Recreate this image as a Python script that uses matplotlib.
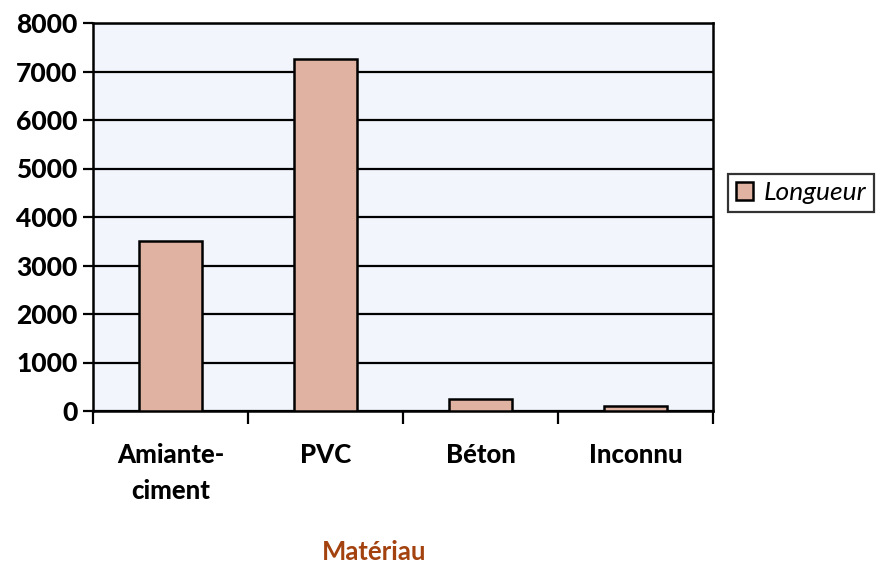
import matplotlib
matplotlib.use("Agg")
import matplotlib.pyplot as plt
import numpy as np

categories = ["Amiante-\nciment", "PVC", "Béton", "Inconnu"]
longueur = [3500, 7250, 240, 110]
series_name = "Longueur"
yticks = [0, 1000, 2000, 3000, 4000, 5000, 6000, 7000, 8000]
xlabel = "Matériau"

plt.rcParams['font.family'] = ['Lato', 'DejaVu Sans']

fig = plt.figure(figsize=(8.82, 5.64), dpi=100)
ax = fig.add_axes([93/882, 1-411/564, (713-93)/882, (411-23)/564])
ax.set_facecolor('#f2f6fc')

x = np.arange(len(categories))
bars = ax.bar(x, longueur, width=0.41, color='#e0b2a2', edgecolor='black',
              linewidth=1.8, label=series_name, zorder=3)

ax.set_xlim(-0.5, len(categories) - 0.5)
ax.set_ylim(0, 8000)
ax.set_yticks(yticks)
ax.set_yticklabels([str(v) for v in yticks], fontsize=19, fontweight='black')
ax.yaxis.grid(True, color='black', linewidth=1.6, zorder=1)
ax.set_axisbelow(True)

ax.set_xticks(x)
ax.set_xticklabels(categories, fontsize=18.5, fontweight='black', linespacing=1.6)
ax.tick_params(axis='x', length=0, pad=23)
ax.set_xticks(np.arange(-0.5, len(categories), 1.0), minor=True)
ax.tick_params(axis='x', which='minor', length=9, width=1.6, direction='out')
ax.tick_params(axis='y', length=7, width=1.6, direction='out', pad=4)

for s in ax.spines.values():
    s.set_linewidth(1.8)
    s.set_color('black')

fig.text(374/882, 1-552/564, xlabel, fontsize=18.5, fontweight='bold',
         color='#a3420e', ha='center', va='center')

leg = fig.legend(handles=[bars], labels=[series_name], loc='center left',
                 bbox_to_anchor=(728/882, 1-193/564), frameon=True, fancybox=False,
                 edgecolor='black', prop={'size': 19, 'style': 'italic'},
                 handlelength=0.65, handleheight=0.65, handletextpad=0.4,
                 borderpad=0.3, borderaxespad=0)
leg.get_frame().set_linewidth(1.6)

fig.savefig("out.png", dpi=100)
